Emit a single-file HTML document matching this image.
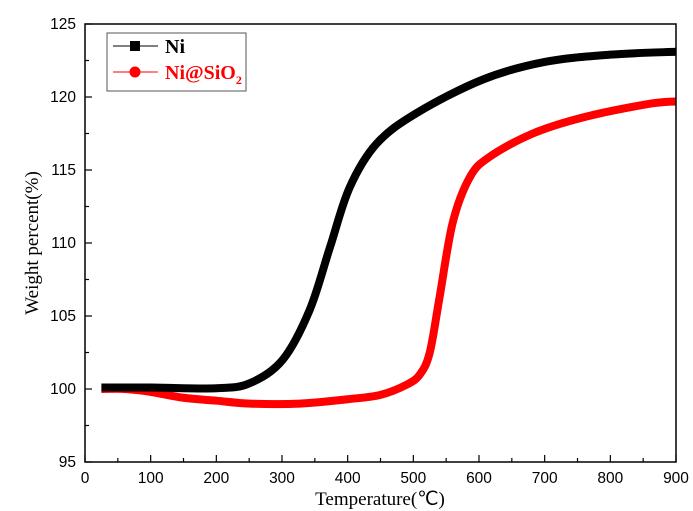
<!DOCTYPE html>
<html><head><meta charset="utf-8"><style>
body{margin:0;background:#fff}
svg{display:block}
</style></head><body>
<svg id="chart" width="693" height="511" viewBox="0 0 693 511" xmlns="http://www.w3.org/2000/svg">
<g id="axes"></g>
<g id="series"></g>
<rect x="85" y="24" width="591" height="438" fill="none" stroke="#000" stroke-width="1.5"/>
<g>
<rect x="107" y="33" width="139" height="58" fill="#fff" stroke="#555" stroke-width="1"/>
<g>
<line x1="113" y1="46" x2="158" y2="46" stroke="#000" stroke-width="1"/>
<rect x="130" y="41" width="10" height="10" fill="#000"/>
<text x="165" y="53" font-family="Liberation Serif, serif" font-weight="bold" font-size="20" fill="#000">Ni</text>
</g>
<g>
<line x1="113" y1="72" x2="158" y2="72" stroke="#f00" stroke-width="1"/>
<circle cx="135" cy="72" r="5.5" fill="#f00"/>
<text x="165" y="79" font-family="Liberation Serif, serif" font-weight="bold" font-size="20" fill="#f00">Ni@SiO<tspan font-size="12" dy="5">2</tspan></text>
</g>
</g>
<text x="380" y="505" text-anchor="middle" font-family="Liberation Serif, serif" font-size="19">Temperature(℃)</text>
<text transform="translate(38,243) rotate(-90)" text-anchor="middle" font-family="Liberation Serif, serif" font-size="19">Weight percent(%)</text>
</svg>
<script>
const xTicks=[0,100,200,300,400,500,600,700,800,900];
const yTicks=[95,100,105,110,115,120,125];
const niT=[25,100,200,251,301,342,373,403,444,505,606,700,800,900];
const niV=[100.1,100.1,100.05,100.4,102.0,105.4,109.7,113.8,116.8,118.9,121.2,122.4,122.9,123.1];
const sioT=[25,60,100,150,200,251,327,400,450,490,510,525,540,560,586,616,682,758,855,900];
const sioV=[100,100.0,99.8,99.4,99.2,99.0,99.0,99.3,99.6,100.3,101.0,102.5,106.3,111.4,114.5,115.9,117.5,118.6,119.5,119.7];
const X=t=>85+t*591/900, Y=v=>462-(v-95)*438/30;
const ns="http://www.w3.org/2000/svg";
const ax=document.getElementById('axes'), se=document.getElementById('series');
function mk(tag,attrs,parent){const e=document.createElementNS(ns,tag);for(const k in attrs)e.setAttribute(k,attrs[k]);parent.appendChild(e);return e;}
xTicks.forEach((t,i)=>{
 const tk=mk('line',{x1:X(t),x2:X(t),y1:462,y2:455,stroke:'#000','stroke-width':1.2},ax);
 
 
 if(i<xTicks.length-1){const m=mk('line',{x1:X(t+50),x2:X(t+50),y1:462,y2:458,stroke:'#000','stroke-width':1.2},ax);
 
 }
 const l=mk('text',{x:X(t),y:483,'text-anchor':'middle','font-family':'Liberation Sans, sans-serif','font-size':15.5},ax);
 l.textContent=t;
 
 
});
yTicks.forEach((v,i)=>{
 const tk=mk('line',{x1:85,x2:92,y1:Y(v),y2:Y(v),stroke:'#000','stroke-width':1.2},ax);
 
 
 if(i<yTicks.length-1){const m=mk('line',{x1:85,x2:89,y1:Y(v+2.5),y2:Y(v+2.5),stroke:'#000','stroke-width':1.2},ax);
 
 }
 const l=mk('text',{x:76,y:Y(v)+5,'text-anchor':'end','font-family':'Liberation Sans, sans-serif','font-size':15.5},ax);
 l.textContent=v;
 
 
});
function smooth(T,V){
 const p=T.map((t,i)=>[X(t),Y(V[i])]);
 let d='M'+p[0][0]+','+p[0][1];
 for(let i=0;i<p.length-1;i++){
  const p0=p[i-1]||p[i],p1=p[i],p2=p[i+1],p3=p[i+2]||p2;
  const c1=[p1[0]+(p2[0]-p0[0])/6,p1[1]+(p2[1]-p0[1])/6];
  const c2=[p2[0]-(p3[0]-p1[0])/6,p2[1]-(p3[1]-p1[1])/6];
  d+=` C${c1[0]},${c1[1]} ${c2[0]},${c2[1]} ${p2[0]},${p2[1]}`;
 }
 return d;
}
const s1=mk('path',{d:smooth(sioT,sioV),fill:'none',stroke:'#f00','stroke-width':8,'stroke-linecap':'butt','stroke-linejoin':'round'},se);


const s0=mk('path',{d:smooth(niT,niV),fill:'none',stroke:'#000','stroke-width':8,'stroke-linecap':'butt','stroke-linejoin':'round'},se);


</script>
</body></html>
